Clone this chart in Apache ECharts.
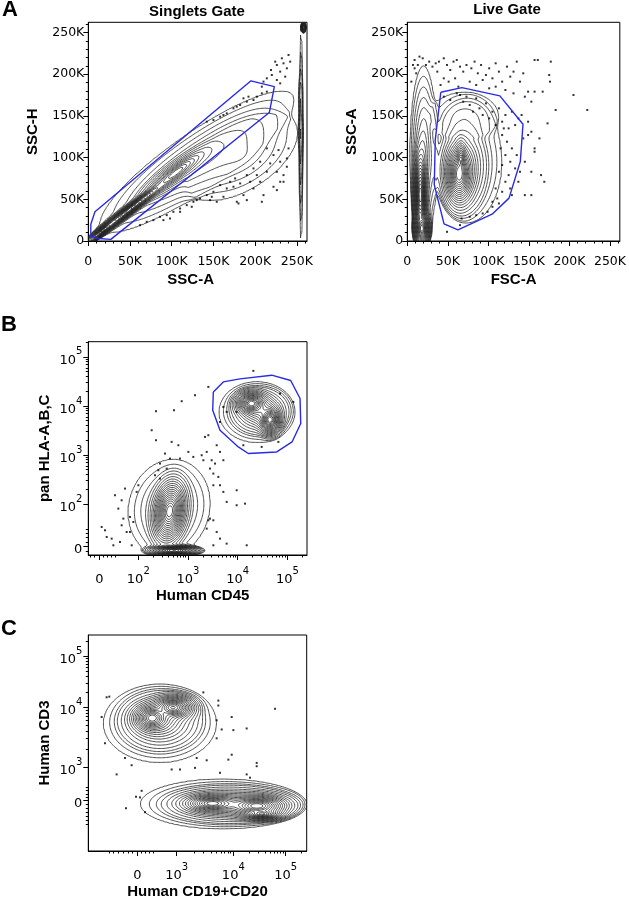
<!DOCTYPE html>
<html><head><meta charset="utf-8">
<script src="https://cdn.jsdelivr.net/npm/echarts@6/dist/echarts.min.js"></script>
<style>html,body{margin:0;padding:0;background:#fff}#c{width:629px;height:900px}</style>
</head><body><div id="c"></div>
<script>
// ---------------- DATA ----------------
// Linear scatter axes (values in K units, 0 .. 262.144K)
const LIN_TICKS = [0, 50, 100, 150, 200, 250];
const LIN_MAX = 262.144;

// Biexponential axes: [position in display units, label]
const HLA_X_TICKS = [[1.215, '0'], [2, '10^2'], [3, '10^3'], [4, '10^4'], [5, '10^5']];
const HLA_Y_TICKS = [[1.143, '0'], [2, '10^2'], [3, '10^3'], [4, '10^4'], [5, '10^5']];
const CD_X_TICKS = [[2.168, '0'], [2.92, '10^3'], [4, '10^4'], [5, '10^5']];
const CD_Y_TICKS = [[2.13, '0'], [2.79, '10^3'], [3.99, '10^4'], [5, '10^5']];
const HLA_X_RANGE = [0.994, 5.394], HLA_Y_RANGE = [0.959, 5.31];
const CD_X_RANGE = [1.233, 5.40], CD_Y_RANGE = [1.122, 5.425];

// Population density components:
// [cx, cy, outer half-extent (major), outer half-extent (minor), angleDeg, peak]
const SINGLETS_POPS = [
  [50, 38, 75, 7, 37.5, 1.0],
  [18, 13, 25, 5, 38, 1.0],
  [105, 82, 60, 13, 37, 0.15],
  [130, 95, 140, 34, 35, 0.015],
  [185, 100, 75, 38, 33, 0.008],
  [255, 125, 125, 2.5, 90, 0.012],
  [258, 256, 3, 7, 0, 0.3]
];
const LIVE_POPS = [
  [75, 95, 42, 72, 0, 0.012],
  [68, 86, 30, 56, 0, 0.08],
  [64, 80, 22, 46, 0, 1.0],
  [66, 97, 9, 30, 0, 0.5],
  [70, 150, 42, 28, 0, 0.006],
  [20, 105, 17, 105, 0, 0.02],
  [16, 55, 10, 70, 0, 1.0],
  [18, 15, 12, 25, 0, 1.0]
];
const HLA_POPS = [
  [4.38, 3.87, 0.76, 0.62, 0, 0.012],
  [4.45, 3.9, 0.6, 0.48, 0, 0.08],
  [4.28, 4.05, 0.42, 0.32, 0, 1.0],
  [4.65, 3.72, 0.3, 0.38, 0, 1.0],
  [2.62, 1.92, 0.82, 1.0, -14, 0.012],
  [2.63, 1.85, 0.42, 0.82, -8, 1.0],
  [2.72, 1.05, 0.62, 0.12, 0, 0.9]
];
const CD_POPS = [
  [2.6, 3.66, 1.08, 0.78, 0, 0.012],
  [2.6, 3.72, 0.8, 0.6, 0, 0.08],
  [2.45, 3.77, 0.5, 0.38, 0, 1.0],
  [2.85, 3.98, 0.55, 0.32, 0, 0.8],
  [3.78, 2.06, 1.55, 0.5, 0, 0.012],
  [3.95, 2.05, 1.3, 0.38, 0, 0.08],
  [3.6, 2.07, 0.75, 0.25, 0, 0.7],
  [4.45, 2.02, 0.8, 0.3, 0, 1.0],
  [4.55, 1.86, 0.5, 0.15, 0, 0.6]
];
const CONTOUR_LEVELS = 20;   // number of contour lines
const CONTOUR_DEPTH = 6;     // log-density depth of the outermost line

// Gates
const SINGLETS_GATE_X = [3, 3, 8, 195, 223, 217, 27, 12, 3];
const SINGLETS_GATE_Y = [6, 20, 35, 192, 185, 154, 2, 3, 6];
const LIVE_GATE_X = [41.3, 67.3, 114.2, 142.7, 139.4, 125.5, 104.6, 62.5, 45.3, 33.3, 34.5, 41.3];
const LIVE_GATE_Y = [178.3, 183.8, 173.9, 140.0, 95.2, 51.4, 32.2, 13.4, 20.6, 67.3, 121.2, 178.3];
const HLA_GATE_X = [3.509, 3.710, 4.046, 4.684, 5.066, 5.254, 5.268, 5.093, 4.785, 4.213, 4.012, 3.644, 3.497, 3.509];
const HLA_GATE_Y = [4.286, 4.490, 4.551, 4.627, 4.518, 4.151, 3.641, 3.265, 3.061, 3.029, 3.163, 3.504, 3.912, 4.286];

// Gate frequency labels [x, y, text]
const SINGLETS_PCT = [164, 206, '81.1%'];
const LIVE_PCT = [159.5, 27.4, '41.9%'];
const HLA_PCT = [4.28, 4.89, '38.7%'];

// Outlier dots
const SINGLETS_DOTS = [[226,211],[230,203],[234,213],[238,207],[220,199],[214,195],[226,193],[236,197],[230,189],[208,185],[214,179],[202,173],[198,169],[190,167],[182,163],[174,159],[166,153],[158,149],[150,145],[142,143],[219,205],[232,219],[240,223],[210,191],[186,171],[178,161],[162,151],[224,215],[242,215],[208,177],[192,173],
[214,111],[222,103],[230,95],[238,99],[206,95],[198,87],[190,79],[194,71],[182,69],[174,65],[166,63],[158,67],[150,59],[142,55],[134,51],[126,47],[118,43],[110,39],[102,35],[94,31],[86,29],[78,25],[70,23],[62,19],[198,63],[206,71],[214,83],[226,83],[234,79],[230,71],[222,65],[210,55],[186,55],[178,47],[162,53],[154,47],[190,49],[202,79],[238,89],[240,111],[228,109],[218,93],[170,71],[176,75],[148,53],[130,49],[124,41],[110,35],[98,27],[90,25],[146,49],[180,45],[208,47],[226,61],[234,71]];
const LIVE_DOTS = [[9,217],[15,221],[19,219],[23,211],[27,215],[31,209],[35,213],[39,215],[45,219],[49,211],[53,205],[57,215],[61,217],[65,209],[69,203],[73,211],[79,207],[83,215],[87,201],[91,211],[97,199],[101,207],[105,195],[109,213],[113,203],[117,191],[123,209],[127,197],[131,203],[135,215],[139,191],[143,201],[149,179],[157,217],[161,217],[177,215],[175,199],[176,191],[167,179],[183,157],[173,141],[9,207],[13,211],[37,203],[45,195],[41,187],[51,191],[59,195],[63,185],[77,191],[85,187],[93,193],[101,183],[109,185],[121,181],[131,177],[145,173],[153,167],
[45,173],[53,169],[61,177],[69,167],[77,163],[85,171],[89,159],[97,165],[105,155],[113,159],[121,151],[129,155],[137,147],[81,155],[93,151],[101,147],[109,139],[117,143],[125,135],[133,139],[141,151],[149,143],[65,175],[73,173],
[117,127],[123,119],[129,111],[135,103],[121,103],[127,95],[117,91],[133,87],[125,79],[139,83],[145,95],[153,83],[157,107],[163,123],[165,79],[157,111],[153,131],[121,71],[127,63],[117,59],[111,51],[105,47],[109,63],[129,55],[137,71],[169,71],[153,55],[143,123],[149,127],[113,83],[115,111],[119,135],
[99,35],[93,33],[85,31],[77,29],[67,27],[65,19],[49,11],[105,41],[113,45],[7,211],[11,201],[5,191],[222,157],[145,55],[157,179],[205,175]];
const HLA_DOTS = [[3.409,4.388],[3.141,4.218],[2.873,4.096],[2.356,3.892],[2.718,3.912],[2.269,3.504],[2.356,3.300],[2.671,3.266],[2.806,3.198],[3.007,3.062],[2.537,3.028],[2.638,2.926],[2.839,2.926],[3.107,2.960],[3.275,2.994],[3.376,3.062],[3.309,2.892],[3.476,2.892],[3.342,3.368],[3.409,3.402],[3.577,3.198],[3.644,3.062],[3.711,2.892],[3.543,2.824],[3.443,2.722],[3.510,2.620],[3.610,2.552],[3.644,2.382],[3.711,2.246],[3.979,2.280],[3.778,2.042],[3.979,1.974],[4.147,2.007],[3.443,1.701],[3.510,1.667],[3.644,1.293],[3.778,1.191],[4.181,1.157],[3.510,1.157],[3.577,1.429],[2.403,2.688],[2.336,2.586],[2.437,2.518],[2.001,2.382],[1.967,2.246],[1.732,2.314],[1.531,2.178],[1.665,2.075],[1.598,1.905],[1.699,1.701],[1.833,1.735],[1.900,1.633],[1.665,1.565],[1.766,1.429],[1.833,1.429],[1.263,1.531],[1.330,1.463],[1.364,1.327],[1.464,1.293],[1.498,1.157],[1.632,1.225],[1.867,1.157],[2.437,2.824],[2.571,2.722],[3.510,2.382],[3.376,1.497],[3.409,1.667],[4.315,4.715],[3.711,3.980],[3.778,3.878],[3.644,3.674],[4.113,3.198],[4.482,3.164],[4.818,3.266],[4.851,4.252],[5.119,4.082],[3.979,3.878]];
const CD_DOTS = [[1.583,4.184],[1.634,4.197],[1.488,3.792],[1.552,3.269],[1.933,2.975],[2.060,2.831],[1.774,2.648],[2.824,2.746],[2.983,2.746],[3.269,2.778],[3.301,2.975],[3.492,2.929],[3.682,3.367],[3.778,3.543],[3.969,3.792],[4.001,3.530],[3.905,2.942],[3.969,3.040],[4.255,3.563],[4.446,2.877],[4.446,2.811],[4.796,3.955],[3.746,2.680],[4.255,2.648],[4.319,2.582],[3.428,4.282],[3.714,4.118],[3.714,4.020],[3.682,3.726],[2.251,2.321],[2.143,2.203],[2.219,2.190],[1.952,1.974],[2.315,1.896]];

// ---------------- HELPERS ----------------
const BLUE = '#2a2ae6';
const TICK_FONT = 'DejaVu Sans';
const TITLE_FONT = 'Liberation Sans';

function contourSegments(pops, xr, yr, n) {
  const x0 = xr[0], y0 = yr[0], dx = (xr[1] - xr[0]) / n, dy = (yr[1] - yr[0]) / n;
  const Lout = Math.exp(-CONTOUR_DEPTH);
  const EPS = 0.2, NORM = Math.sqrt(1 + EPS * EPS) - EPS, TAIL = 9;
  const P = pops.map(c => { const a = c[4] * Math.PI / 180;
    return {cx:c[0], cy:c[1], ex:c[2], ey:c[3], ca:Math.cos(a), sa:Math.sin(a), pk:c[5], rate:Math.log(c[5] / Lout)}; });
  const N1 = n + 1, V = new Float64Array(N1 * N1);
  for (let j = 0; j <= n; j++) for (let i = 0; i <= n; i++) {
    const x = x0 + i * dx, y = y0 + j * dy; let s = 0;
    for (const p of P) {
      const ddx = x - p.cx, ddy = y - p.cy;
      const u = (ddx * p.ca + ddy * p.sa) / p.ex, v = (-ddx * p.sa + ddy * p.ca) / p.ey;
      const r = (Math.sqrt(u * u + v * v + EPS * EPS) - EPS) / NORM;
      s += r <= 1 ? p.pk * Math.exp(-p.rate * r) : Lout * Math.exp(-TAIL * (r - 1));
    }
    V[j * N1 + i] = s;
  }
  const levels = [];
  for (let k = 1; k <= CONTOUR_LEVELS; k++) levels.push(Math.exp(-CONTOUR_DEPTH * k / CONTOUR_LEVELS));
  const table = {1:[[0,3]],2:[[0,1]],3:[[3,1]],4:[[1,2]],5:[[0,3],[1,2]],6:[[0,2]],7:[[2,3]],8:[[2,3]],9:[[0,2]],10:[[0,1],[2,3]],11:[[1,2]],12:[[1,3]],13:[[0,1]],14:[[0,3]]};
  const segs = [];
  for (const L of levels) {
    for (let j = 0; j < n; j++) for (let i = 0; i < n; i++) {
      const v00 = V[j*N1+i], v10 = V[j*N1+i+1], v11 = V[(j+1)*N1+i+1], v01 = V[(j+1)*N1+i];
      const c = (v00 > L ? 1 : 0) | (v10 > L ? 2 : 0) | (v11 > L ? 4 : 0) | (v01 > L ? 8 : 0);
      if (c === 0 || c === 15) continue;
      const xa = x0 + i * dx, ya = y0 + j * dy, xb = xa + dx, yb = ya + dy;
      const e = (id) => {
        if (id === 0) return [xa + (L - v00) / (v10 - v00) * dx, ya];
        if (id === 1) return [xb, ya + (L - v10) / (v11 - v10) * dy];
        if (id === 2) return [xa + (L - v01) / (v11 - v01) * dx, yb];
        return [xa, ya + (L - v00) / (v01 - v00) * dy];
      };
      for (const s of table[c]) segs.push({coords: [e(s[0]), e(s[1])]});
    }
  }
  return segs;
}

function zip(xs, ys) { return xs.map((x, i) => [x, ys[i]]); }

function biexMinor(ticks, range) {
  const out = [];
  const dec = ticks.filter(t => t[1] !== '0').map(t => t[0]);
  for (let a = 0; a < dec.length; a++) {
    const p0 = dec[a], p1 = a + 1 < dec.length ? dec[a + 1] : null;
    const d = p1 !== null ? p1 - p0 : (dec[a] - dec[a - 1]);
    for (let m = 2; m <= 9; m++) { const p = p0 + d * Math.log10(m); if (p < range[1]) out.push(p); }
  }
  const z = ticks[0][0], first = dec[0];
  for (let m = 1; m <= 4; m++) out.push(z + (first - z) * m * 0.1);
  for (let m = 1; m <= 6; m++) { const p = z - (first - z) * m * 0.12; if (p > range[0]) out.push(p); }
  return out;
}

const richLabel = {
  b: {fontFamily: TICK_FONT, fontSize: 13, color: '#000', lineHeight: 20, verticalAlign: 'bottom'},
  s: {fontFamily: TICK_FONT, fontSize: 10, color: '#000', lineHeight: 8, verticalAlign: 'top'}
};
function biexFormatter(ticks) {
  return function (v) {
    const t = ticks.find(tt => Math.abs(tt[0] - v) < 1e-6);
    if (!t) return '';
    if (t[1] === '0') return '{b|0}';
    const parts = t[1].split('^');
    return '{b|' + parts[0] + '}{s|' + parts[1] + '}';
  };
}

const nameStyle = {fontFamily: TITLE_FONT, fontWeight: 'bold', fontSize: 15, color: '#000'};

function majorAxis(grid, isX, range, tickPos, formatter, name, gap, rich, pad, margin) {
  return {
    type: 'value', gridIndex: grid, min: range[0], max: range[1],
    position: isX ? 'bottom' : 'left',
    name: name, nameLocation: 'middle', nameGap: gap,
    nameTextStyle: Object.assign({}, nameStyle, pad ? {padding: pad} : {}),
    axisLine: {show: true, onZero: false, lineStyle: {color: '#000', width: 1}},
    axisTick: {show: true, customValues: tickPos, length: 5, lineStyle: {color: '#000', width: 1}},
    axisLabel: {show: true, customValues: tickPos, formatter: formatter, margin: margin,
      fontFamily: TICK_FONT, fontSize: 12.5, color: '#000', rich: rich || undefined},
    splitLine: {show: false}
  };
}
function minorAxis(grid, isX, range, tickPos) {
  return {
    type: 'value', gridIndex: grid, min: range[0], max: range[1], position: isX ? 'bottom' : 'left',
    axisLine: {show: false, onZero: false},
    axisTick: {show: true, customValues: tickPos, length: 2.5, lineStyle: {color: '#000', width: 1}},
    axisLabel: {show: false}, splitLine: {show: false}
  };
}

const linMinor = []; for (let v = 10; v <= 260; v += 10) if (v % 50 !== 0) linMinor.push(v);
const kFmt = v => v === 0 ? '0' : v + 'K';
const LIN_RANGE = [0, LIN_MAX];

const grids = [
  {left: 88.3, top: 22.3, width: 218.7, height: 218.7},
  {left: 407.3, top: 22.3, width: 218.3, height: 218.7},
  {left: 88.3, top: 341.7, width: 218.7, height: 213.3},
  {left: 88.3, top: 635, width: 218.4, height: 219.5}
].map(g => Object.assign(g, {show: true, borderColor: '#000', borderWidth: 1, backgroundColor: '#fff'}));

const xAxes = [
  majorAxis(0, true, LIN_RANGE, LIN_TICKS, kFmt, 'SSC-A', 31, null, [0, 14, 0, 0], 14),
  minorAxis(0, true, LIN_RANGE, linMinor),
  majorAxis(1, true, LIN_RANGE, LIN_TICKS, kFmt, 'FSC-A', 31, null, null, 14),
  minorAxis(1, true, LIN_RANGE, linMinor),
  majorAxis(2, true, HLA_X_RANGE, HLA_X_TICKS.map(t => t[0]), biexFormatter(HLA_X_TICKS), 'Human CD45', 33, richLabel, [0, 0, 0, 10], 11),
  minorAxis(2, true, HLA_X_RANGE, biexMinor(HLA_X_TICKS, HLA_X_RANGE)),
  majorAxis(3, true, CD_X_RANGE, CD_X_TICKS.map(t => t[0]), biexFormatter(CD_X_TICKS), 'Human CD19+CD20', 33, richLabel, null, 11),
  minorAxis(3, true, CD_X_RANGE, biexMinor(CD_X_TICKS, CD_X_RANGE))
];
const yAxes = [
  majorAxis(0, false, LIN_RANGE, LIN_TICKS, kFmt, 'SSC-H', 48, null, null, 4),
  minorAxis(0, false, LIN_RANGE, linMinor),
  majorAxis(1, false, LIN_RANGE, LIN_TICKS, kFmt, 'SSC-A', 48, null, null, 4),
  minorAxis(1, false, LIN_RANGE, linMinor),
  majorAxis(2, false, HLA_Y_RANGE, HLA_Y_TICKS.map(t => t[0]), biexFormatter(HLA_Y_TICKS), 'pan HLA-A,B,C', 36, richLabel, null, 6),
  minorAxis(2, false, HLA_Y_RANGE, biexMinor(HLA_Y_TICKS, HLA_Y_RANGE)),
  majorAxis(3, false, CD_Y_RANGE, CD_Y_TICKS.map(t => t[0]), biexFormatter(CD_Y_TICKS), 'Human CD3', 36, richLabel, null, 6),
  minorAxis(3, false, CD_Y_RANGE, biexMinor(CD_Y_TICKS, CD_Y_RANGE))
];

const panels = [
  {pops: SINGLETS_POPS, xr: LIN_RANGE, yr: LIN_RANGE, dots: SINGLETS_DOTS, gate: zip(SINGLETS_GATE_X, SINGLETS_GATE_Y), pct: SINGLETS_PCT},
  {pops: LIVE_POPS, xr: LIN_RANGE, yr: LIN_RANGE, dots: LIVE_DOTS, gate: zip(LIVE_GATE_X, LIVE_GATE_Y), pct: LIVE_PCT},
  {pops: HLA_POPS, xr: HLA_X_RANGE, yr: HLA_Y_RANGE, dots: HLA_DOTS, gate: zip(HLA_GATE_X, HLA_GATE_Y), pct: HLA_PCT},
  {pops: CD_POPS, xr: CD_X_RANGE, yr: CD_Y_RANGE, dots: CD_DOTS, gate: null, pct: null}
];

const series = [];
panels.forEach((p, idx) => {
  const ax = {xAxisIndex: idx * 2, yAxisIndex: idx * 2};
  series.push(Object.assign({
    type: 'lines', coordinateSystem: 'cartesian2d', polyline: false, large: true, largeThreshold: 100,
    silent: true, lineStyle: {color: '#222', width: 0.8, opacity: 1},
    data: contourSegments(p.pops, p.xr, p.yr, 170)
  }, ax));
  series.push(Object.assign({
    type: 'scatter', symbol: 'rect', symbolSize: 2, silent: true,
    itemStyle: {color: '#000'}, data: p.dots
  }, ax));
  if (p.gate) {
    series.push(Object.assign({
      type: 'line', data: p.gate, symbol: 'none', silent: true,
      lineStyle: {color: BLUE, width: 1.4}
    }, ax));
  }
  if (p.pct) {
    series.push(Object.assign({
      type: 'scatter', symbolSize: 1, silent: true, itemStyle: {opacity: 0},
      data: [[p.pct[0], p.pct[1]]],
      label: {show: true, position: 'inside', formatter: p.pct[2], color: BLUE,
        fontFamily: TITLE_FONT, fontWeight: 'bold', fontSize: 15}
    }, ax));
  }
});

function txt(x, y, text, size) {
  return {type: 'text', x: x, y: y, silent: true,
    style: {text: text, fill: '#000', font: 'bold ' + size + 'px "' + TITLE_FONT + '"', align: 'center', verticalAlign: 'middle'}};
}

const chart = echarts.init(document.getElementById('c'), null, {renderer: 'canvas'});
chart.setOption({
  animation: false,
  backgroundColor: '#fff',
  grid: grids,
  xAxis: xAxes,
  yAxis: yAxes,
  series: series,
  graphic: [
    txt(10, 10, 'A', 22), txt(9, 325, 'B', 22), txt(9, 629, 'C', 22),
    txt(197, 12, 'Singlets Gate', 15), txt(507, 10, 'Live Gate', 15)
  ]
});
</script></body></html>
